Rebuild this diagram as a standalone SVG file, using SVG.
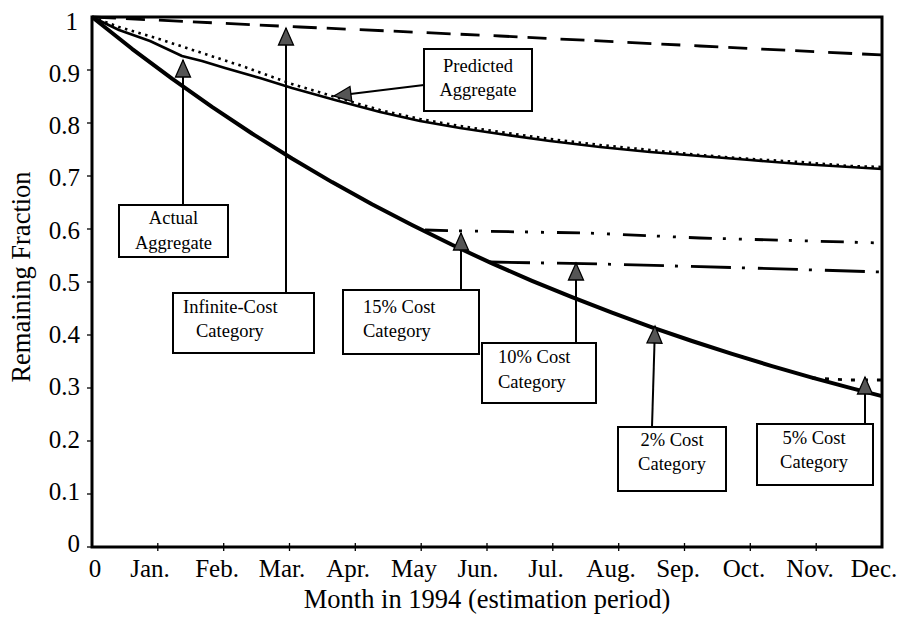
<svg xmlns="http://www.w3.org/2000/svg" width="909" height="618" viewBox="0 0 909 618">
<style>
text{font-family:"Liberation Serif","Times New Roman",serif;fill:#000}
.tick{font-size:25px}
.title{font-size:26.5px}
.lbl{font-size:18.5px}
.box{fill:#fff;stroke:#000;stroke-width:2}
.arr{stroke:#000;stroke-width:2;fill:none;marker-end:url(#ah)}
.crv{fill:none;stroke:#000;stroke-linejoin:round}
</style>
<defs>
<marker id="ah" markerUnits="userSpaceOnUse" markerWidth="20" markerHeight="18" refX="17" refY="7.5" orient="auto" overflow="visible">
<path d="M0,0 L17,7.5 L0,15 Z" fill="#555" stroke="#000" stroke-width="1.3"/>
</marker>
</defs>
<rect width="909" height="618" fill="#fff"/>
<g id="axes">
<rect x="92" y="17" width="790" height="530" fill="none" stroke="#000" stroke-width="3"/>
<g stroke="#000" stroke-width="1.3">
<line x1="87" y1="70" x2="92" y2="70"/><line x1="87" y1="123" x2="92" y2="123"/><line x1="87" y1="176" x2="92" y2="176"/><line x1="87" y1="229" x2="92" y2="229"/><line x1="87" y1="282" x2="92" y2="282"/><line x1="87" y1="335" x2="92" y2="335"/><line x1="87" y1="388" x2="92" y2="388"/><line x1="87" y1="441" x2="92" y2="441"/><line x1="87" y1="494" x2="92" y2="494"/><line x1="87" y1="547" x2="92" y2="547"/>
<line x1="157.8" y1="543" x2="157.8" y2="551"/><line x1="223.7" y1="543" x2="223.7" y2="551"/><line x1="289.5" y1="543" x2="289.5" y2="551"/><line x1="355.3" y1="543" x2="355.3" y2="551"/><line x1="421.2" y1="543" x2="421.2" y2="551"/><line x1="487" y1="543" x2="487" y2="551"/><line x1="552.8" y1="543" x2="552.8" y2="551"/><line x1="618.7" y1="543" x2="618.7" y2="551"/><line x1="684.5" y1="543" x2="684.5" y2="551"/><line x1="750.3" y1="543" x2="750.3" y2="551"/><line x1="816.2" y1="543" x2="816.2" y2="551"/>
</g>
<g class="tick" text-anchor="end">
<text x="78" y="30">1</text><text x="80" y="82">0.9</text><text x="80" y="134">0.8</text><text x="80" y="186">0.7</text><text x="80" y="239">0.6</text><text x="80" y="291">0.5</text><text x="80" y="343">0.4</text><text x="80" y="395">0.3</text><text x="80" y="448">0.2</text><text x="80" y="500">0.1</text><text x="80" y="552">0</text>
</g>
<g class="tick" text-anchor="middle">
<text x="95" y="577">0</text><text x="150" y="577">Jan.</text><text x="217" y="577">Feb.</text><text x="282" y="577">Mar.</text><text x="348" y="577">Apr.</text><text x="414" y="577">May</text><text x="478" y="577">Jun.</text><text x="546" y="577">Jul.</text><text x="611" y="577">Aug.</text><text x="678" y="577">Sep.</text><text x="744" y="577">Oct.</text><text x="810" y="577">Nov.</text><text x="874" y="577">Dec.</text>
</g>
<text class="title" x="487" y="608" text-anchor="middle">Month in 1994 (estimation period)</text>
<text class="title" transform="translate(30,277) rotate(-90)" text-anchor="middle">Remaining Fraction</text>
</g>
<g id="curves">
<polyline id="infinite-cost" class="crv" stroke-width="2.8" stroke-dasharray="24,10,19,14" points="92,17 300,27 500,36 700,46 882,55"/>
<polyline id="cost-15" class="crv" stroke-width="2.8" stroke-dasharray="23,11,3,13,3,13" points="425,230 467,231 587,233 700,238 882,243"/>
<polyline id="cost-10" class="crv" stroke-width="2.8" stroke-dasharray="40,11,3,13" points="490,262 600,264 750,268 882,272"/>
<polyline id="cost-5" class="crv" stroke-width="2.8" stroke-dasharray="4,9" points="812,378 850,380 882,380"/>
<polyline id="cost-2" class="crv" stroke-width="4" points="92,17 132,48.8 172,78.7 212,106.9 252,133.5 292,158.5 332,182.1 372,204.3 412,225.1 452,244.8 492,263.4 532,280.8 572,297.2 612,312.7 652,327.3 692,341 732,353.9 772,366.1 812,377.6 852,388.4 882,396.1"/>
<polyline id="actual-aggregate" class="crv" stroke-width="2.6" points="92,17 119,30 150,41 182,56 202,61 225,68 260,78 292,88 335,100 380,112 420,121 460,128 500,134 550,141 600,147 650,152 700,156 750,160 800,164 850,167 882,169"/>
<polyline id="predicted-aggregate" class="crv" stroke-width="2.6" stroke-dasharray="2.5,4.5" points="92,17 119,27 159,39 202,53 242,66 292,84 335,97 380,110 420,119 460,126 500,132 550,139 600,145 650,150 700,155 750,159 800,162 850,166 882,167"/>
</g>
<g id="connectors">
<line class="arr" x1="183" y1="205" x2="183" y2="60"/>
<line class="arr" x1="286" y1="293" x2="286" y2="28"/>
<line class="arr" x1="424" y1="85" x2="334" y2="96"/>
<line class="arr" x1="461" y1="290" x2="461" y2="233"/>
<line class="arr" x1="576" y1="343" x2="576" y2="263"/>
<line class="arr" x1="652" y1="427" x2="655" y2="326"/>
<line class="arr" x1="865" y1="424" x2="865" y2="377"/>
</g>
<g id="node-actual">
<rect class="box" x="119" y="205" width="109" height="52"/>
<text class="lbl" x="173.5" y="224" text-anchor="middle">Actual</text>
<text class="lbl" x="173.5" y="249" text-anchor="middle">Aggregate</text>
</g>
<g id="node-predicted">
<rect class="box" x="424" y="49" width="108" height="62"/>
<text class="lbl" x="478" y="72" text-anchor="middle">Predicted</text>
<text class="lbl" x="478" y="96" text-anchor="middle">Aggregate</text>
</g>
<g id="node-infinite">
<rect class="box" x="173" y="293" width="141" height="60"/>
<text class="lbl" x="183" y="313">Infinite-Cost</text>
<text class="lbl" x="196" y="337">Category</text>
</g>
<g id="node-15">
<rect class="box" x="343" y="290" width="136" height="64"/>
<text class="lbl" x="363" y="313">15% Cost</text>
<text class="lbl" x="363" y="337">Category</text>
</g>
<g id="node-10">
<rect class="box" x="482" y="343" width="114" height="60"/>
<text class="lbl" x="498" y="363">10% Cost</text>
<text class="lbl" x="498" y="388">Category</text>
</g>
<g id="node-2">
<rect class="box" x="618" y="427" width="108" height="64"/>
<text class="lbl" x="672" y="446" text-anchor="middle">2% Cost</text>
<text class="lbl" x="672" y="470" text-anchor="middle">Category</text>
</g>
<g id="node-5">
<rect class="box" x="757" y="424" width="116" height="61"/>
<text class="lbl" x="814" y="444" text-anchor="middle">5% Cost</text>
<text class="lbl" x="814" y="468" text-anchor="middle">Category</text>
</g>
</svg>
